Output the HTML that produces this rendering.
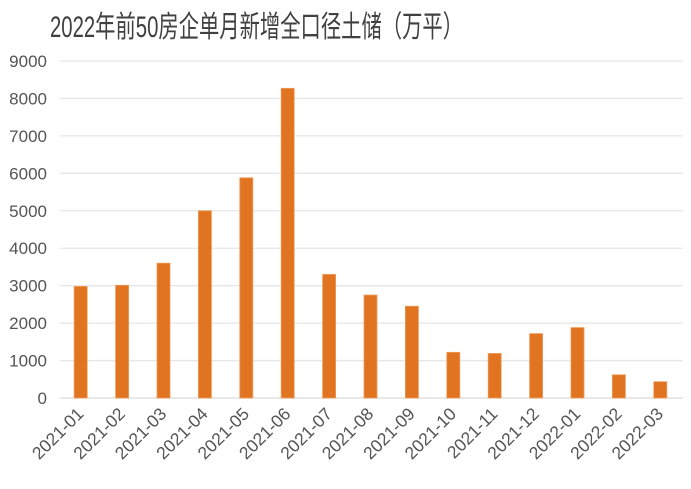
<!DOCTYPE html>
<html><head><meta charset="utf-8"><style>
html,body{margin:0;padding:0;background:#fff;}
svg{display:block;}
</style></head><body>
<svg id="chart" width="691" height="489" xmlns="http://www.w3.org/2000/svg">
<text x="50" y="37" font-family="'Liberation Sans','Noto Sans CJK SC',sans-serif" font-size="30" fill="#404040" textLength="413" lengthAdjust="spacingAndGlyphs">2022年前50房企单月新增全口径土储（万平）</text>
<g id="grid"></g><g id="bars"></g><g id="ylabels"></g><g id="xlabels"></g>
</svg>
<script>
const categories=["2021-01","2021-02","2021-03","2021-04","2021-05","2021-06","2021-07","2021-08","2021-09","2021-10","2021-11","2021-12","2022-01","2022-02","2022-03"];
const values=[2980,3010,3600,5000,5880,8270,3300,2750,2450,1220,1190,1720,1880,620,435];
const yTicks=[0,1000,2000,3000,4000,5000,6000,7000,8000,9000];
const NS="http://www.w3.org/2000/svg";
const L=60,R=681,T=61,B=398,yMax=9000;
const y=v=>B-(v/yMax)*(B-T);
const bw=(R-L)/categories.length;
const x=i=>L+bw*(i+0.5);
function mk(tag,attrs,parent){const e=document.createElementNS(NS,tag);for(const k in attrs)e.setAttribute(k,attrs[k]);document.getElementById(parent).appendChild(e);return e;}
yTicks.forEach(t=>{
  const g=mk("line",{x1:L,x2:683,y1:y(t),y2:y(t),stroke:t===0?"#d9d9d9":"#e6e6e6","stroke-width":1.3},"grid");
  
  
  const tx=mk("text",{x:47,y:y(t)+6,"text-anchor":"end","font-family":"Liberation Sans,sans-serif","font-size":17,fill:"#555"},"ylabels");
  tx.textContent=t;
  
  
});
values.forEach((v,i)=>{
  const r=mk("rect",{x:x(i)-6.5,y:y(v),width:13,height:B-y(v),fill:"#e07420",stroke:"#f09a55","stroke-width":0.8},"bars");
  
  
});
categories.forEach((c,i)=>{
  const cx=x(i)+4,cy=415;
  const t=mk("text",{x:cx,y:cy,"text-anchor":"end","font-family":"Liberation Sans,sans-serif","font-size":17.5,fill:"#555",transform:`rotate(-45 ${cx} ${cy})`},"xlabels");
  t.textContent=c;
  
  
});
</script>
</body></html>
